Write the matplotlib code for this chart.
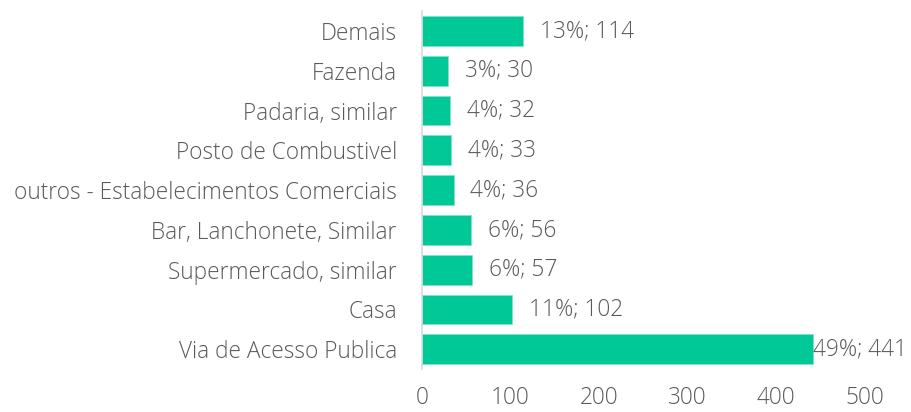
import matplotlib.pyplot as plt

categories = ['Via de Acesso Publica', 'Casa', 'Supermercado, similar',
              'Bar, Lanchonete, Similar', 'outros - Estabelecimentos Comerciais',
              'Posto de Combustivel', 'Padaria, similar', 'Fazenda', 'Demais']
values = [441, 102, 57, 56, 36, 33, 32, 30, 114]
percents = [49, 11, 6, 6, 4, 4, 4, 3, 13]
xticks = [0, 100, 200, 300, 400, 500]

plt.rcParams['font.family'] = ['Open Sans', 'DejaVu Sans']
plt.rcParams['font.weight'] = 'light'
text_color = '#595959'
bar_color = '#00C896'
fs = 16.3

fig = plt.figure(figsize=(9.11, 4.12), dpi=100)
ax = fig.add_axes([0.463, 0.104, 0.4865, 0.869])

y = range(len(categories))
ax.barh(y, values, height=0.75, color=bar_color, edgecolor='#7fe3ca', linewidth=0.6)
for i, (v, p) in enumerate(zip(values, percents)):
    # label is pushed against the bar when it would run off the chart
    off = 12 if v < 400 else 0.5
    ax.annotate(f'{p}%; {v}', (v, i), xytext=(off, 0), textcoords='offset points',
                va='center', ha='left', fontsize=fs, color=text_color)

ax.set_xlim(0, 500)
ax.set_ylim(-0.5, len(categories) - 0.5)
ax.set_yticks(list(y))
ax.set_yticklabels(categories, fontsize=fs, color=text_color)
ax.set_xticks(xticks)
ax.set_xticklabels([str(t) for t in xticks], fontsize=fs, color=text_color)
ax.tick_params(axis='both', length=0)
ax.tick_params(axis='y', pad=18)
ax.tick_params(axis='x', pad=12)
for s in ['top', 'right', 'bottom']:
    ax.spines[s].set_visible(False)
ax.spines['left'].set_color('#d9d9d9')
ax.spines['left'].set_linewidth(1.2)

fig.savefig('out.png', dpi=100)
